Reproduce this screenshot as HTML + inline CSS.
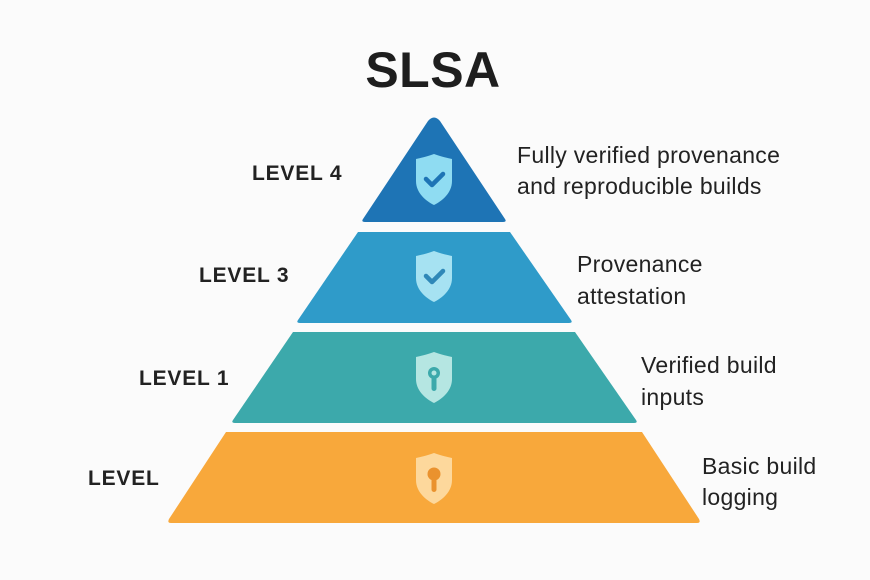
<!DOCTYPE html>
<html><head><meta charset="utf-8"><style>
html,body{margin:0;padding:0;background:#fbfbfb;}
svg{display:block;}
text{font-family:"Liberation Sans",sans-serif;}
</style></head><body>
<svg width="870" height="580" viewBox="0 0 870 580" xmlns="http://www.w3.org/2000/svg">
<rect width="870" height="580" fill="#fbfbfb"/>
<text x="433" y="87" font-size="50" font-weight="bold" text-anchor="middle" fill="#1e1e1e" letter-spacing="0.5">SLSA</text>

<defs>
<path id="sh" d="M0,-25 C8,-22 14,-21 18,-20 L18,2 C18,14 8,22 0,26 C-8,22 -18,14 -18,2 L-18,-20 C-14,-21 -8,-22 0,-25Z"/>
</defs>

<path d="M428,121 Q434,114 440,121 L505,219 Q507,222 503,222 L365,222 Q361,222 363,219 Z" fill="#1e74b5"/>
<path d="M358,232 L510,232 L571,320 Q573,323 569,323 L300,323 Q296,323 298,320 Z" fill="#2f9bc9"/>
<path d="M293,332 L575,332 L636,420 Q638,423 634,423 L235,423 Q231,423 233,420 Z" fill="#3ca9ab"/>
<path d="M226,432 L642,432 L699,519 Q701,523 697,523 L171,523 Q167,523 169,519 Z" fill="#f8a83b"/>

<g transform="translate(434,179)"><use href="#sh" fill="#8fdcf2"/><path d="M-8,0 L-2,6 L9,-5" stroke="#1e74b5" stroke-width="4.5" fill="none" stroke-linecap="round" stroke-linejoin="round"/></g>
<g transform="translate(434,276)"><use href="#sh" fill="#a6e2f2"/><path d="M-8,0 L-2,6 L9,-5" stroke="#2f88b8" stroke-width="4.5" fill="none" stroke-linecap="round" stroke-linejoin="round"/></g>
<g transform="translate(434,377)"><use href="#sh" fill="#b5e6e2"/><circle cx="0" cy="-4" r="6" fill="#3ca9ab"/><circle cx="0" cy="-4" r="2.5" fill="#b5e6e2"/><rect x="-2.5" y="0" width="5" height="14" rx="2.5" fill="#3ca9ab"/></g>
<g transform="translate(434,478)"><use href="#sh" fill="#fdd89c"/><circle cx="0" cy="-4" r="6.5" fill="#ea922e"/><rect x="-2.5" y="0" width="5" height="14" rx="2.5" fill="#ea922e"/></g>

<g font-size="21" font-weight="bold" fill="#222" letter-spacing="0.8">
<text x="252" y="180">LEVEL 4</text>
<text x="199" y="282">LEVEL 3</text>
<text x="139" y="385">LEVEL 1</text>
<text x="88" y="485">LEVEL</text>
</g>
<g font-size="23" fill="#222" letter-spacing="0.3">
<text x="517" y="163">Fully verified provenance</text>
<text x="517" y="194">and reproducible builds</text>
<text x="577" y="272">Provenance</text>
<text x="577" y="304">attestation</text>
<text x="641" y="373">Verified build</text>
<text x="641" y="405">inputs</text>
<text x="702" y="474">Basic build</text>
<text x="702" y="505">logging</text>
</g>
</svg>
</body></html>
